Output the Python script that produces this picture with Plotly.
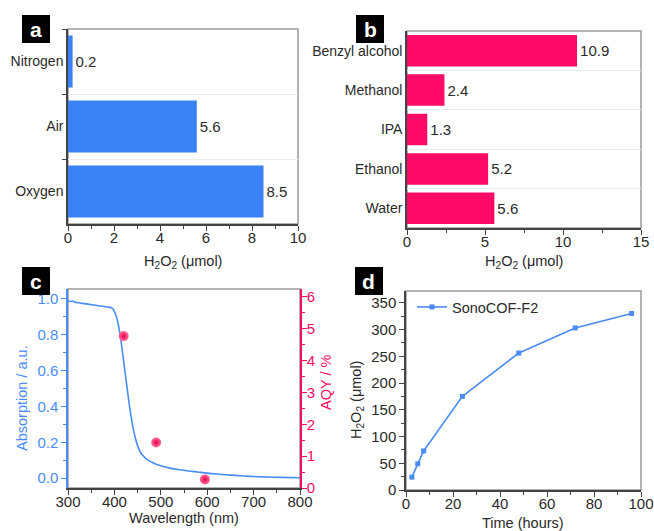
import plotly.graph_objects as go

# ---------------- data ----------------
gas_cats = ['Oxygen', 'Air', 'Nitrogen']
gas_vals = [8.5, 5.6, 0.2]

solv_cats = ['Water', 'Ethanol', 'IPA', 'Methanol', 'Benzyl alcohol']
solv_vals = [5.6, 5.2, 1.3, 2.4, 10.9]

wavelength = [300, 305, 310, 315, 320, 330, 340, 350, 360, 370, 380, 390, 395, 400, 405,
              410, 415, 420, 425, 430, 435, 440, 445, 450, 455, 460, 470, 480, 490, 500,
              520, 540, 560, 580, 600, 620, 650, 680, 700, 730, 760, 800]
absorption = [0.99, 0.985, 0.988, 0.981, 0.979, 0.975, 0.972, 0.968, 0.964, 0.96, 0.956, 0.953, 0.948, 0.93, 0.895,
              0.835, 0.75, 0.65, 0.55, 0.45, 0.36, 0.285, 0.225, 0.18, 0.15, 0.13, 0.105, 0.09, 0.078, 0.069,
              0.056, 0.047, 0.04, 0.034, 0.028, 0.023, 0.017, 0.012, 0.009, 0.006, 0.004, 0.002]

aqy_wl = [420, 490, 595]
aqy_vals = [4.77, 1.43, 0.27]

time_h = [2.5, 5, 7.5, 24, 48, 72, 96]
h2o2_umol = [24, 49, 73, 175, 256, 303, 330]

# ---------------- style ----------------
W, H = 654, 531
FONT = 'Liberation Sans, Arial, sans-serif'
BLUE = '#3B82F6'
LBLUE = '#4A8CF7'
PINK = '#FF0A66'
DARK = '#2a2a2a'
AXC = '#444444'
FRAME = '#9a9a9a'
TS = 15  # tick number size


def px(p):
    return p / W


def py(p):
    return 1 - p / H


def xd(l, r):
    return [px(l), px(r)]


def yd(t, b):
    return [py(b), py(t)]


fig = go.Figure()

# panel a
fig.add_trace(go.Bar(x=gas_vals, y=gas_cats, orientation='h', marker_color=BLUE,
                     text=[str(v) for v in gas_vals], textposition='outside',
                     textfont=dict(size=15, color=DARK, family=FONT), cliponaxis=False,
                     constraintext='none', xaxis='x', yaxis='y', showlegend=False,
                     marker_line_width=0))
# panel b
fig.add_trace(go.Bar(x=solv_vals, y=solv_cats, orientation='h', marker_color=PINK,
                     text=[str(v) for v in solv_vals], textposition='outside',
                     textfont=dict(size=15, color=DARK, family=FONT), cliponaxis=False,
                     constraintext='none', xaxis='x2', yaxis='y2', showlegend=False,
                     marker_line_width=0))
# panel c
fig.add_trace(go.Scatter(x=wavelength, y=absorption, mode='lines', line=dict(color=LBLUE, width=1.6, shape='spline'),
                         xaxis='x3', yaxis='y3', showlegend=False))
fig.add_trace(go.Scatter(x=aqy_wl, y=aqy_vals, mode='markers',
                         marker=dict(size=10, color='#ff6f9c', gradient=dict(type='radial', color='#e6004f'),
                                     line=dict(width=0)),
                         xaxis='x3', yaxis='y5', showlegend=False, cliponaxis=False))
# panel d
fig.add_trace(go.Scatter(x=time_h, y=h2o2_umol, mode='lines+markers', name='SonoCOF-F2',
                         line=dict(color=LBLUE, width=1.6),
                         marker=dict(symbol='square', size=5, color=LBLUE),
                         xaxis='x4', yaxis='y4', showlegend=True, cliponaxis=False))


def lin_axis(domain, rng, dtick, minor, color=DARK, linecolor=AXC, anchor=None, standoff=0, **kw):
    d = dict(domain=domain, range=rng, dtick=dtick, tick0=0, showgrid=False, zeroline=False,
             showline=True, linecolor=linecolor, linewidth=1.5, ticks='outside', ticklen=5,
             tickwidth=1.2, tickcolor=linecolor, tickfont=dict(size=TS, color=color, family=FONT),
             minor=dict(ticks='outside', ticklen=3, dtick=minor, tickcolor=linecolor, tickwidth=1),
             fixedrange=True, automargin=False, ticklabelstandoff=standoff)
    if anchor:
        d['anchor'] = anchor
    d.update(kw)
    return d


def cat_axis(domain, anchor, ticks):
    return dict(domain=domain, anchor=anchor, type='category', tickson='boundaries', showgrid=True,
                gridcolor='#ececec', gridwidth=1, showline=True, linecolor=AXC, linewidth=1.5,
                ticks=ticks, ticklen=4, tickcolor=AXC, zeroline=False, automargin=False,
                tickfont=dict(size=14, color=DARK, family=FONT), fixedrange=True)


XS = -6  # x tick label standoff
fig.update_layout(
    width=W, height=H, margin=dict(l=0, r=0, t=0, b=0, autoexpand=False), autosize=False,
    paper_bgcolor='white', plot_bgcolor='white',
    font=dict(family=FONT, color=DARK, size=14),
    bargap=0.2,
    xaxis=lin_axis(xd(68, 298), [0, 10], 2, 1, anchor='y', standoff=XS),
    yaxis=cat_axis(yd(29, 224), 'x', 'outside'),
    xaxis2=lin_axis(xd(407, 641), [0, 15], 5, 2.5, anchor='y2', standoff=XS),
    yaxis2=cat_axis(yd(31, 228), 'x2', ''),
    xaxis3=lin_axis(xd(68, 300), [300, 800], 100, 50, anchor='y3', standoff=XS),
    yaxis3=lin_axis(yd(289, 488), [-0.055, 1.055], 0.2, 0.1, color=LBLUE, linecolor=LBLUE, anchor='x3',
                    tickformat='.1f'),
    yaxis5=lin_axis(yd(289, 488), [0, 6.25], 1, 0.5, color=PINK, linecolor=PINK, anchor='x3',
                    overlaying='y3', side='right', standoff=-3),
    xaxis4=lin_axis(xd(406, 641), [0, 100], 20, 10, anchor='y4', standoff=XS),
    yaxis4=lin_axis(yd(291, 490), [0, 372], 50, 25, anchor='x4'),
    showlegend=True,
    legend=dict(x=px(412), y=py(291), xanchor='left', yanchor='top', bgcolor='rgba(0,0,0,0)',
                font=dict(size=14.5, color=DARK, family=FONT), borderwidth=0),
)

shapes = []
# frames (top/right gray)
for xr, yr in [('x', 'y'), ('x2', 'y2'), ('x3', 'y3'), ('x4', 'y4')]:
    shapes.append(dict(type='rect', xref=f'{xr} domain', yref=f'{yr} domain', x0=0, x1=1, y0=0, y1=1,
                       line=dict(color=FRAME, width=1.5), layer='below'))
# panel letter boxes
boxes = [('a', 22, 15), ('b', 356, 15), ('c', 22, 267), ('d', 355, 267)]
annotations = []
for letter, bx, by in boxes:
    shapes.append(dict(type='rect', xref='paper', yref='paper', x0=px(bx), x1=px(bx + 28),
                       y0=py(by + 28), y1=py(by), fillcolor='black', line=dict(width=0)))
    annotations.append(dict(text=f'<b>{letter}</b>', x=px(bx + 14), y=py(by + 14), xref='paper',
                            yref='paper', showarrow=False, font=dict(size=21, color='white', family=FONT),
                            xanchor='center', yanchor='middle'))

# axis titles
h2o2 = 'H<sub>2</sub>O<sub>2</sub> (μmol)'
titles = [
    (h2o2, 183, 262, 0, DARK),
    (h2o2, 524, 262, 0, DARK),
    ('Wavelength (nm)', 184, 518, 0, DARK),
    ('Time (hours)', 523, 523, 0, DARK),
    ('Absorption / a.u.', 22, 398, -90, LBLUE),
    ('AQY / %', 326, 383, -90, PINK),
    (h2o2, 357, 400, -90, DARK),
]
for t, x, y, ang, c in titles:
    annotations.append(dict(text=t, x=px(x), y=py(y), xref='paper', yref='paper', showarrow=False,
                            textangle=ang, font=dict(size=14.5, color=c, family=FONT),
                            xanchor='center', yanchor='middle'))

fig.update_layout(shapes=shapes, annotations=annotations)

fig.write_html('out.html', config={'displayModeBar': False},
               post_script="document.body.style.margin='0';document.body.style.overflow='hidden';")
